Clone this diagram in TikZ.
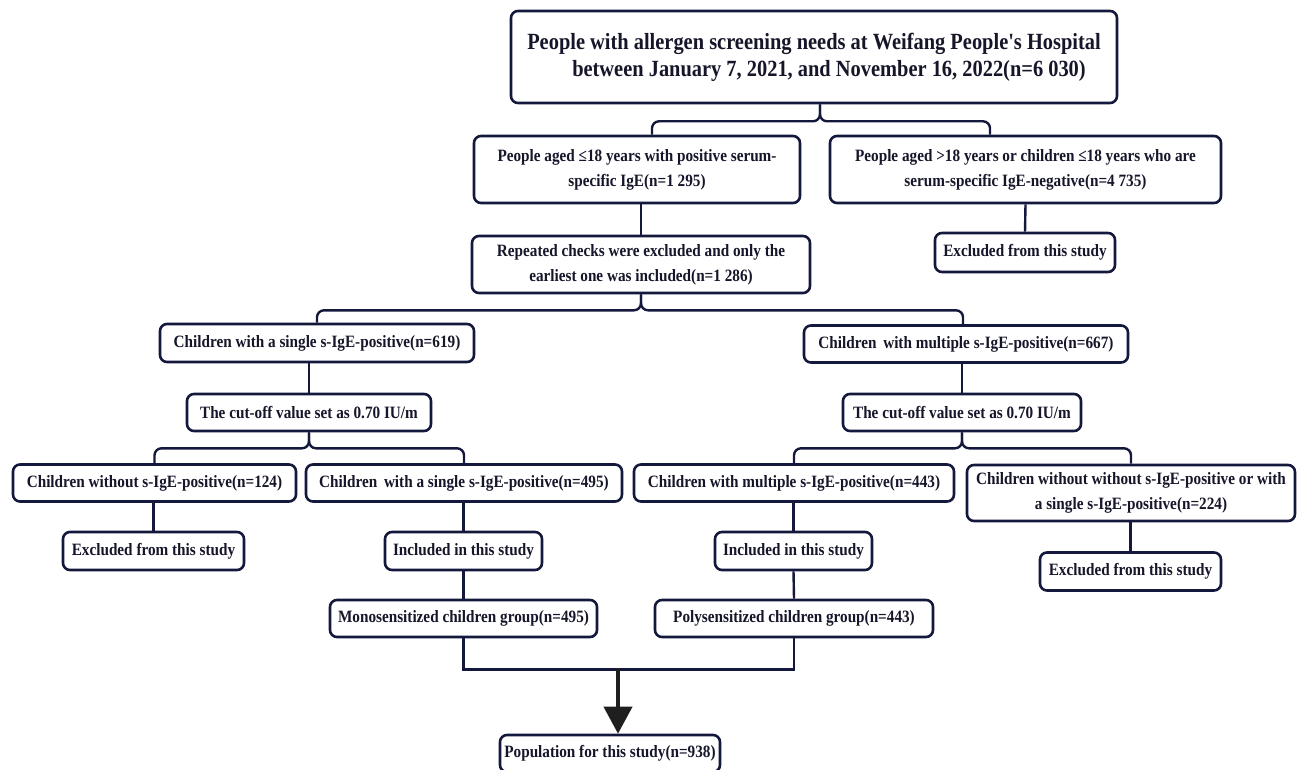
\documentclass[tikz,border=0pt]{standalone}
\usepackage{fontspec}
\setmainfont{Liberation Serif}[FakeStretch=0.88, Ligatures=TeXOff]
\usetikzlibrary{arrows.meta}
\definecolor{navy}{RGB}{20,24,60}
\definecolor{ink}{RGB}{22,22,42}
\begin{document}
\begin{tikzpicture}[x=1pt,y=-1pt,
  box/.style={draw=navy, line width=2.6pt, rounded corners=7pt, fill=white, align=center,
              inner sep=0pt, font=\bfseries\fontsize{17.3}{25}\selectfont, text=ink},
  bigbox/.style={box, font=\bfseries\fontsize{23.2}{27}\selectfont},
  conn/.style={draw=navy, line width=2.4pt, rounded corners=7pt},
  plain/.style={draw=navy, line width=2.4pt},
  bigarrow/.style={draw=black!88, line width=4pt, -{Triangle[width=28pt,length=27pt]}}
]
\useasboundingbox (0,0) rectangle (1297,770);

% nodes
\node[bigbox, minimum width=606pt, minimum height=92pt] (top) at (814,57)
  {People with allergen screening needs at Weifang People's Hospital\\\hspace*{30pt}between January 7, 2021, and November 16, 2022(n=6 030)};

\node[box, minimum width=326pt, minimum height=67pt] (pa) at (637,169.5)
  {People aged ≤18 years with positive serum-\\specific IgE(n=1 295)};
\node[box, minimum width=391pt, minimum height=67pt] (pb) at (1025.5,169.5)
  {People aged >18 years or children ≤18 years who are\\serum-specific IgE-negative(n=4 735)};

\node[box, minimum width=338pt, minimum height=57pt] (rep) at (641,264.5)
  {Repeated checks were excluded and only the\\earliest one was included(n=1 286)};
\node[box, minimum width=180pt, minimum height=39pt] (exa) at (1025,252.5)
  {Excluded from this study};

\node[box, minimum width=314pt, minimum height=38pt] (c1) at (317,343)
  {Children with a single s-IgE-positive(n=619)};
\node[box, minimum width=324pt, minimum height=37pt] (c2) at (966,344)
  {Children\, with multiple s-IgE-positive(n=667)};

\node[box, minimum width=244pt, minimum height=37pt] (cut1) at (309,412.5)
  {The cut-off value set as 0.70 IU/m};
\node[box, minimum width=238pt, minimum height=37pt] (cut2) at (962,412.5)
  {The cut-off value set as 0.70 IU/m};

\node[box, minimum width=283pt, minimum height=37pt] (d1) at (154.5,483)
  {Children without s-IgE-positive(n=124)};
\node[box, minimum width=316pt, minimum height=37pt] (d2) at (464,483)
  {Children\, with a single s-IgE-positive(n=495)};
\node[box, minimum width=320pt, minimum height=37pt] (d3) at (794,483)
  {Children with multiple s-IgE-positive(n=443)};
\node[box, minimum width=328pt, minimum height=56pt] (d4) at (1131,493)
  {Children without without s-IgE-positive or with\\a single s-IgE-positive(n=224)};

\node[box, minimum width=181pt, minimum height=38pt] (e1) at (153.5,551)
  {Excluded from this study};
\node[box, minimum width=157pt, minimum height=38pt] (e2) at (463.5,551)
  {Included in this study};
\node[box, minimum width=157pt, minimum height=38pt] (e3) at (793.5,551)
  {Included in this study};
\node[box, minimum width=181pt, minimum height=38pt] (e4) at (1130.5,571.5)
  {Excluded from this study};

\node[box, minimum width=267pt, minimum height=37pt] (m1) at (463.5,618.5)
  {Monosensitized children group(n=495)};
\node[box, minimum width=278pt, minimum height=37pt] (m2) at (794,618.5)
  {Polysensitized children group(n=443)};

\node[box, minimum width=220pt, minimum height=37pt] (pop) at (610,753.5)
  {Population for this study(n=938)};

% connectors
\draw[conn] ([xshift=6pt]top.south) -- ++(0,17) -| ([xshift=15pt]pa.north);
\draw[conn] ([xshift=6pt]top.south) -- ++(0,17) -| ([xshift=-35.5pt]pb.north);
\draw[plain] (rep.north |- pa.south) -- (rep.north);
\draw[plain] (pb.south) -- (exa.north);

\draw[conn] (rep.south) -- ++(0,16) -| (c1.north);
\draw[conn] (rep.south) -- ++(0,16) -| ([xshift=-3pt]c2.north);

\draw[plain] (cut1.north |- c1.south) -- (cut1.north);
\draw[plain] (cut2.north |- c2.south) -- (cut2.north);

\draw[conn] (cut1.south) -- ++(0,16) -| (d1.north);
\draw[conn] (cut1.south) -- ++(0,16) -| (d2.north);
\draw[conn] (cut2.south) -- ++(0,16) -| (d3.north);
\draw[conn] (cut2.south) -- ++(0,16) -| (d4.north);

\draw[plain] (e1.north |- d1.south) -- (e1.north);
\draw[plain] (e2.north |- d2.south) -- (e2.north);
\draw[plain] (e3.north |- d3.south) -- (e3.north);
\draw[plain] (e4.north |- d4.south) -- (e4.north);

\draw[plain] (e2.south) -- (m1.north);
\draw[plain] (e3.south) -- (m2.north);

\draw[plain] (m1.south) -- ++(0,31) -| (m2.south);
\coordinate (join) at (618,668);
\draw[bigarrow] (join) -- ([xshift=8pt]pop.north);
\end{tikzpicture}
\end{document}
